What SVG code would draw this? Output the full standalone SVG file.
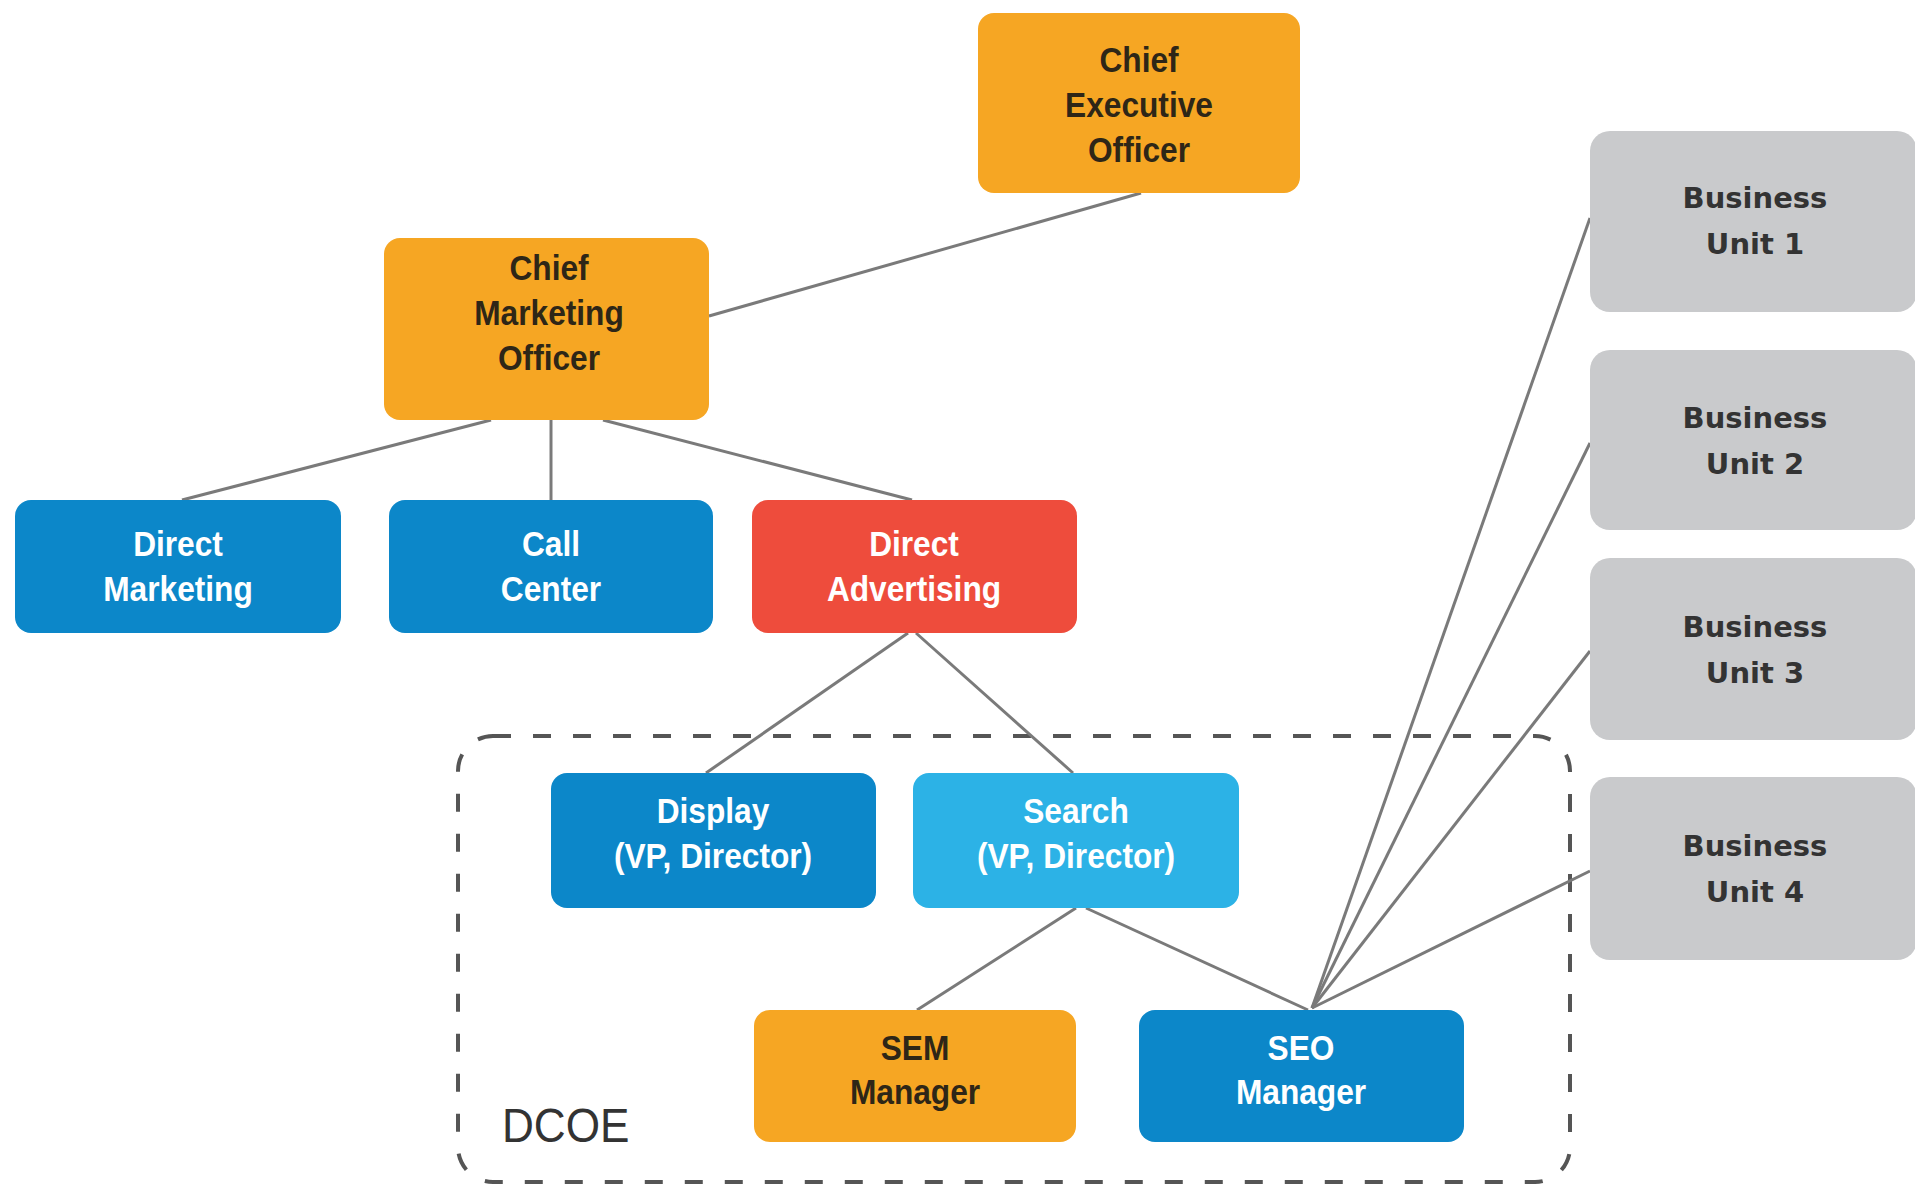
<svg xmlns="http://www.w3.org/2000/svg" width="1915" height="1185" viewBox="0 0 1915 1185">
<style>
.bg{fill:#ffffff}
.orange{fill:#F6A623}
.blue{fill:#0C87C9}
.lblue{fill:#2CB2E6}
.red{fill:#EE4C3C}
.gray{fill:#C9CACC}
.t{font-family:"Liberation Sans",Arial,sans-serif;font-weight:bold;font-size:36px;text-anchor:middle}
.dark{fill:#2e2617}
.light{fill:#ffffff}
.bu{font-family:"DejaVu Sans",Verdana,sans-serif;font-weight:bold;font-size:29px;text-anchor:middle;fill:#333333}
.conn line{stroke:#7a7a7a;stroke-width:3;fill:none}
.dcoe{fill:none;stroke:#555555;stroke-width:4;stroke-dasharray:18 22}
.dcoelabel{font-family:"Liberation Sans",Arial,sans-serif;font-size:48px;fill:#333333}
</style>
<rect class="bg" x="0" y="0" width="1915" height="1185"/>
<g id="dcoe-group">
<rect class="dcoe" x="458" y="736" width="1112" height="446" rx="35" ry="35"/>
<text class="dcoelabel" x="502" y="1142" transform="translate(502 0) scale(0.92 1) translate(-502 0)">DCOE</text>
</g>
<g id="connectors" class="conn">
<line x1="1141" y1="193" x2="709" y2="316"/>
<line x1="491" y1="420" x2="182" y2="500"/>
<line x1="551" y1="420" x2="551" y2="500"/>
<line x1="603" y1="420" x2="912" y2="500"/>
<line x1="908" y1="633" x2="706" y2="773"/>
<line x1="916" y1="633" x2="1073" y2="773"/>
<line x1="1076" y1="908" x2="917" y2="1010"/>
<line x1="1086" y1="908" x2="1308" y2="1010"/>
<line x1="1312" y1="1008" x2="1590" y2="218"/>
<line x1="1312" y1="1008" x2="1590" y2="443"/>
<line x1="1312" y1="1008" x2="1590" y2="651"/>
<line x1="1312" y1="1008" x2="1590" y2="871"/>
</g>
<g id="ceo">
<rect class="orange" x="978" y="13" width="322" height="180" rx="16"/>
<g transform="matrix(0.88 0 0 1 1139 0)">
<text class="t dark" x="0" y="72">Chief</text>
<text class="t dark" x="0" y="117">Executive</text>
<text class="t dark" x="0" y="162">Officer</text>
</g>
</g>
<g id="cmo">
<rect class="orange" x="384" y="238" width="325" height="182" rx="16"/>
<g transform="matrix(0.88 0 0 1 549 0)">
<text class="t dark" x="0" y="280">Chief</text>
<text class="t dark" x="0" y="325">Marketing</text>
<text class="t dark" x="0" y="370">Officer</text>
</g>
</g>
<g id="direct-marketing">
<rect class="blue" x="15" y="500" width="326" height="133" rx="16"/>
<g transform="matrix(0.88 0 0 1 178 0)">
<text class="t light" x="0" y="556">Direct</text>
<text class="t light" x="0" y="601">Marketing</text>
</g>
</g>
<g id="call-center">
<rect class="blue" x="389" y="500" width="324" height="133" rx="16"/>
<g transform="matrix(0.88 0 0 1 551 0)">
<text class="t light" x="0" y="556">Call</text>
<text class="t light" x="0" y="601">Center</text>
</g>
</g>
<g id="direct-advertising">
<rect class="red" x="752" y="500" width="325" height="133" rx="16"/>
<g transform="matrix(0.88 0 0 1 914 0)">
<text class="t light" x="0" y="556">Direct</text>
<text class="t light" x="0" y="601">Advertising</text>
</g>
</g>
<g id="display">
<rect class="blue" x="551" y="773" width="325" height="135" rx="16"/>
<g transform="matrix(0.88 0 0 1 713 0)">
<text class="t light" x="0" y="823">Display</text>
<text class="t light" x="0" y="868">(VP, Director)</text>
</g>
</g>
<g id="search">
<rect class="lblue" x="913" y="773" width="326" height="135" rx="16"/>
<g transform="matrix(0.88 0 0 1 1076 0)">
<text class="t light" x="0" y="823">Search</text>
<text class="t light" x="0" y="868">(VP, Director)</text>
</g>
</g>
<g id="sem-manager">
<rect class="orange" x="754" y="1010" width="322" height="132" rx="16"/>
<g transform="matrix(0.88 0 0 1 915 0)">
<text class="t dark" x="0" y="1060">SEM</text>
<text class="t dark" x="0" y="1104">Manager</text>
</g>
</g>
<g id="seo-manager">
<rect class="blue" x="1139" y="1010" width="325" height="132" rx="16"/>
<g transform="matrix(0.88 0 0 1 1301 0)">
<text class="t light" x="0" y="1060">SEO</text>
<text class="t light" x="0" y="1104">Manager</text>
</g>
</g>
<g id="bu1">
<rect class="gray" x="1590" y="131" width="327" height="181" rx="20"/>
<text class="bu" x="1755" y="208">Business</text>
<text class="bu" x="1755" y="254">Unit 1</text>
</g>
<g id="bu2">
<rect class="gray" x="1590" y="350" width="327" height="180" rx="20"/>
<text class="bu" x="1755" y="428">Business</text>
<text class="bu" x="1755" y="474">Unit 2</text>
</g>
<g id="bu3">
<rect class="gray" x="1590" y="558" width="327" height="182" rx="20"/>
<text class="bu" x="1755" y="637">Business</text>
<text class="bu" x="1755" y="683">Unit 3</text>
</g>
<g id="bu4">
<rect class="gray" x="1590" y="777" width="327" height="183" rx="20"/>
<text class="bu" x="1755" y="856">Business</text>
<text class="bu" x="1755" y="902">Unit 4</text>
</g>
</svg>
